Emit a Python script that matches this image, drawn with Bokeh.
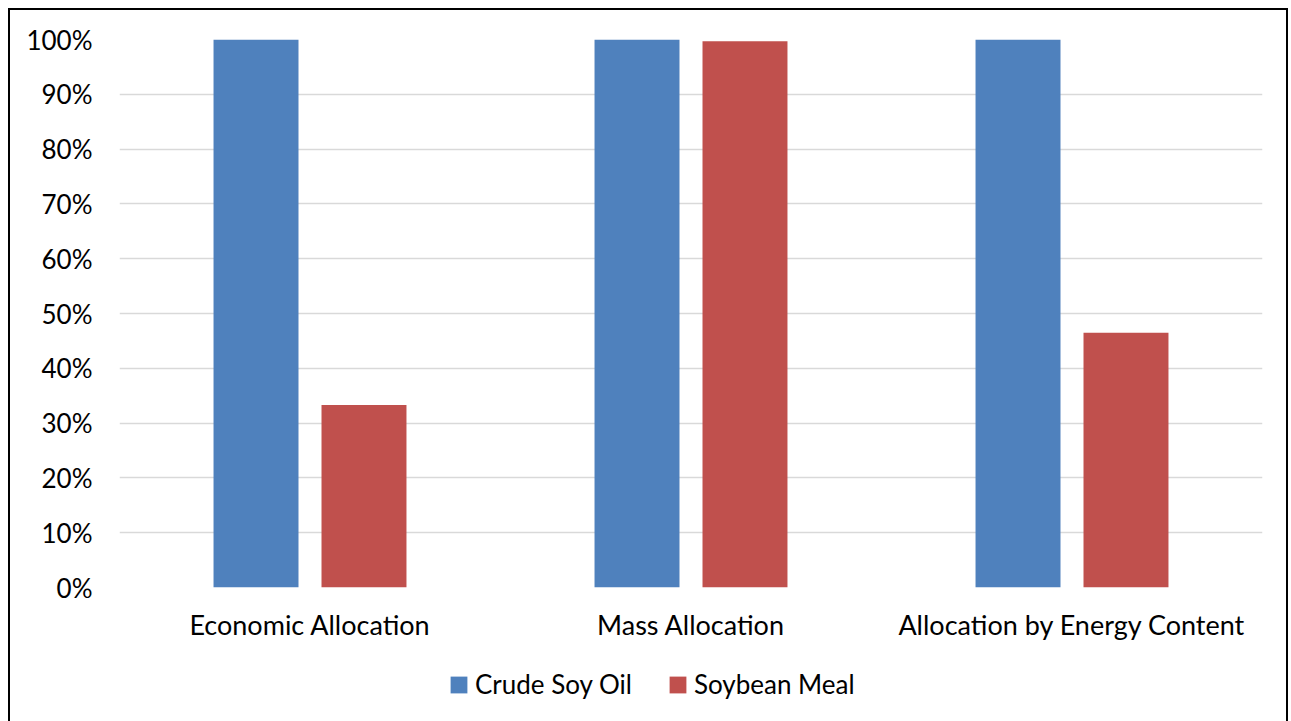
from bokeh.plotting import figure
from bokeh.layouts import column
from bokeh.models import (FactorRange, NumeralTickFormatter, Legend, LegendItem,
                          ColumnDataSource, FixedTicker, Range1d)
from bokeh.transform import dodge
from bokeh.embed import file_html
from bokeh.resources import INLINE

categories = ["Economic Allocation", "Mass Allocation", "Allocation by Energy Content"]
series_names = ["Crude Soy Oil", "Soybean Meal"]
crude_soy_oil = [1.0, 1.0, 1.0]
soybean_meal = [0.333, 0.997, 0.465]
y_ticks = [0, 0.1, 0.2, 0.3, 0.4, 0.5, 0.6, 0.7, 0.8, 0.9, 1.0]

FONT = "Lato"
BLUE = "#4F81BD"
RED = "#C0504D"

src = ColumnDataSource(dict(cat=categories, oil=crude_soy_oil, meal=soybean_meal))

p = figure(x_range=FactorRange(factors=categories), y_range=(0, 1.0),
           width=1280, height=647, output_backend="svg", toolbar_location=None,
           min_border_left=111, min_border_right=26, min_border_top=31, min_border_bottom=68)
p.border_fill_color = None
p.background_fill_color = "white"

r1 = p.vbar(x=dodge("cat", -0.1417, range=p.x_range), top="oil", width=0.223, source=src,
            fill_color=BLUE, line_color=None)
r2 = p.vbar(x=dodge("cat", 0.1417, range=p.x_range), top="meal", width=0.223, source=src,
            fill_color=RED, line_color=None)

p.outline_line_color = None
p.xgrid.grid_line_color = None
p.ygrid.grid_line_color = "#D9D9D9"
p.ygrid.grid_line_width = 1.5
p.ygrid.ticker = FixedTicker(ticks=y_ticks)
p.yaxis.ticker = FixedTicker(ticks=y_ticks)
p.yaxis.formatter = NumeralTickFormatter(format="0%")

for ax in (p.xaxis[0], p.yaxis[0]):
    ax.axis_line_color = None
    ax.major_tick_line_color = None
    ax.minor_tick_line_color = None
    ax.major_label_text_font = FONT
    ax.major_label_text_color = "black"
p.yaxis.major_label_text_font_size = "26px"
p.xaxis.major_label_text_font_size = "27px"
p.yaxis.major_label_standoff = 21
p.xaxis.major_label_standoff = 14

# legend strip (its swatches come from off-screen copies of the two bar series)
lg = figure(width=1280, height=66, output_backend="svg", toolbar_location=None,
            x_range=Range1d(0, 1), y_range=Range1d(0, 1),
            min_border_left=0, min_border_right=0, min_border_top=0, min_border_bottom=0)
lg.axis.visible = False
lg.grid.visible = False
lg.outline_line_color = None
lg.border_fill_color = None
lg.background_fill_color = None
lr1 = lg.vbar(x=[-10], bottom=[-10], top=[-9], width=0.1, fill_color=BLUE, line_color=None)
lr2 = lg.vbar(x=[-10], bottom=[-10], top=[-9], width=0.1, fill_color=RED, line_color=None)

legend = Legend(items=[LegendItem(label=series_names[0], renderers=[lr1]),
                       LegendItem(label=series_names[1], renderers=[lr2])],
                orientation="horizontal", location=(329, 21),
                glyph_width=21, glyph_height=21, label_standoff=6, spacing=35,
                padding=0, margin=0, border_line_color=None, background_fill_alpha=0,
                label_text_font=FONT, label_text_font_size="26px", label_text_color="black")
lg.add_layout(legend, "center")

layout = column(p, lg, spacing=0)
layout.styles = {"margin-left": "8px", "margin-top": "8px",
                 "box-shadow": "inset 2px 2px 0 0 black, inset -2px 0 0 0 black"}

open("out.html", "w").write(file_html(layout, INLINE))
